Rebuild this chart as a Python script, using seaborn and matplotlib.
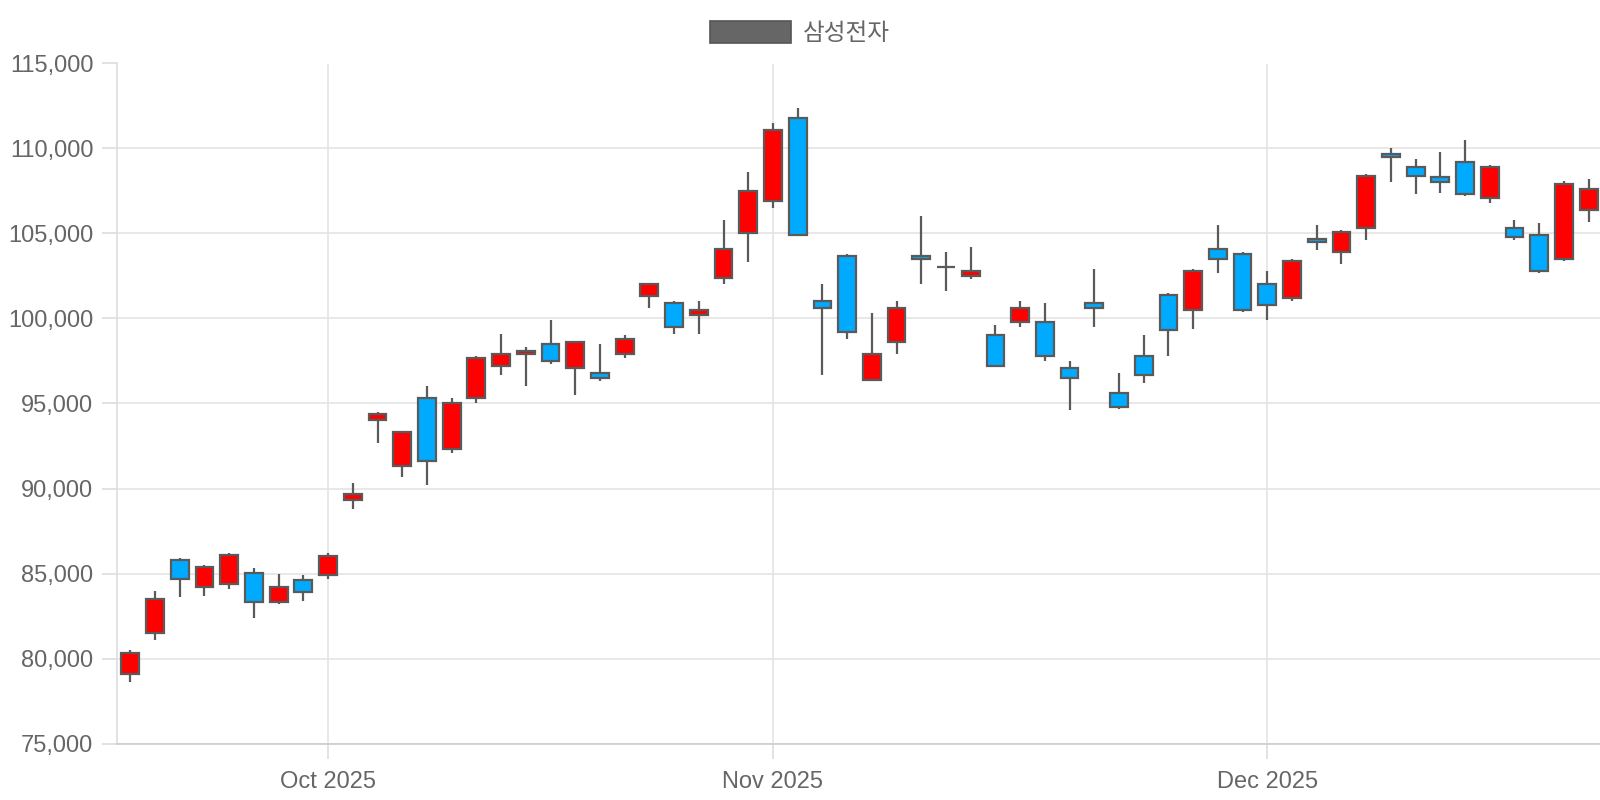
import numpy as np
import pandas as pd
import seaborn as sns
import matplotlib.pyplot as plt
from matplotlib.patches import Patch
from matplotlib.ticker import FuncFormatter, MultipleLocator

# trading days shown (Korean market, holidays skipped)
dates = [
    '2025-09-19', '2025-09-22', '2025-09-23', '2025-09-24', '2025-09-25', '2025-09-26',
    '2025-09-29', '2025-09-30', '2025-10-01', '2025-10-02', '2025-10-10', '2025-10-13',
    '2025-10-14', '2025-10-15', '2025-10-16', '2025-10-17', '2025-10-20', '2025-10-21',
    '2025-10-22', '2025-10-23', '2025-10-24', '2025-10-27', '2025-10-28', '2025-10-29',
    '2025-10-30', '2025-10-31', '2025-11-03', '2025-11-04', '2025-11-05', '2025-11-06',
    '2025-11-07', '2025-11-10', '2025-11-11', '2025-11-12', '2025-11-13', '2025-11-14',
    '2025-11-17', '2025-11-18', '2025-11-19', '2025-11-20', '2025-11-21', '2025-11-24',
    '2025-11-25', '2025-11-26', '2025-11-27', '2025-11-28', '2025-12-01', '2025-12-02',
    '2025-12-03', '2025-12-04', '2025-12-05', '2025-12-08', '2025-12-09', '2025-12-10',
    '2025-12-11', '2025-12-12', '2025-12-15', '2025-12-16', '2025-12-17', '2025-12-18',
]
open_ = [79100, 81500, 85800, 84200, 84400, 85000, 83300, 84600, 84900, 89300,
         94000, 91300, 95300, 92300, 95300, 97200, 97900, 98500, 97100, 96800,
         97900, 101300, 100900, 100200, 102400, 105000, 106900, 111800, 101000, 103700,
         96400, 98600, 103700, 103050, 102500, 99000, 99800, 99800, 97100, 100900,
         95600, 97800, 101400, 100500, 104100, 103800, 102000, 101200, 104700, 103900,
         105300, 109700, 108900, 108300, 109200, 107100, 105300, 104900, 103500, 106400]
high = [80500, 84000, 85900, 85500, 86200, 85300, 85000, 84900, 86200, 90300,
        94500, 93400, 96000, 95300, 97800, 99100, 98300, 99900, 98700, 98500,
        99000, 102000, 101000, 101000, 105800, 108600, 111500, 112400, 102000, 103800,
        100300, 101000, 106000, 103900, 104200, 99600, 101000, 100900, 97500, 102900,
        96800, 99000, 101500, 102900, 105500, 103900, 102800, 103500, 105500, 105200,
        108500, 110000, 109400, 109800, 110500, 109000, 105800, 105600, 108100, 108200]
low = [78600, 81100, 83600, 83700, 84100, 82400, 83200, 83400, 84700, 88800,
       92700, 90700, 90200, 92100, 95000, 96700, 96000, 97300, 95500, 96300,
       97700, 100600, 99100, 99100, 102000, 103300, 106500, 104900, 96700, 98800,
       96300, 97900, 102000, 101600, 102300, 97200, 99500, 97500, 94600, 99500,
       94700, 96200, 97800, 99400, 102700, 100400, 99900, 101000, 104000, 103200,
       104600, 108000, 107300, 107400, 107200, 106800, 104600, 102700, 103400, 105700]
close = [80300, 83500, 84700, 85400, 86100, 83300, 84200, 83900, 86000, 89700,
         94400, 93300, 91600, 95000, 97700, 97900, 98100, 97500, 98600, 96500,
         98800, 102000, 99500, 100500, 104100, 107500, 111100, 104900, 100600, 99200,
         97900, 100600, 103500, 103050, 102800, 97200, 100600, 97800, 96500, 100600,
         94800, 96700, 99300, 102800, 103500, 100500, 100800, 103400, 104500, 105100,
         108400, 109500, 108400, 108000, 107300, 108900, 104800, 102800, 107900, 107600]

series_name = '삼성전자'

df = pd.DataFrame({'date': pd.to_datetime(dates), 'open': open_, 'high': high,
                   'low': low, 'close': close})
df['idx'] = np.arange(len(df))
df['bottom'] = df[['open', 'close']].min(axis=1)
df['height'] = (df['close'] - df['open']).abs()
df['color'] = np.where(df['close'] > df['open'], '#ff0000',
                       np.where(df['close'] < df['open'], '#00aaff', '#999999'))

sns.set_theme(style="whitegrid")
plt.rcParams['font.family'] = ['Liberation Sans', 'Noto Sans CJK KR', 'DejaVu Sans']

fig = plt.figure(figsize=(16, 8), dpi=100)
ax = fig.add_axes([117 / 1600, 1 - 743.5 / 800, 1 - 117 / 1600, 680 / 800])

edge = '#5a5a5a'
ax.vlines(df['idx'], df['low'], df['high'], color=edge, linewidth=1.6, zorder=2)
ax.bar(df['idx'], df['height'], bottom=df['bottom'], width=0.72,
       color=df['color'], edgecolor=edge, linewidth=1.6, zorder=3)

# month ticks at first trading day of each month
first_days = df.groupby(df['date'].dt.to_period('M'))['idx'].min()
month_pos = [p for p in first_days.values if p > 0]
month_lab = [df.loc[p, 'date'].strftime('%b %Y') for p in month_pos]
ax.set_xticks(month_pos)
ax.set_xticklabels(month_lab)
ax.set_xlim(-0.54, len(df) - 0.54)

ax.set_ylim(75000, 115000)
ax.yaxis.set_major_locator(MultipleLocator(5000))
ax.yaxis.set_major_formatter(FuncFormatter(lambda v, _: f'{int(v):,}'))

ax.grid(True, color='#e4e4e4', linewidth=1.2)
ax.set_axisbelow(True)
for s in ['top', 'right']:
    ax.spines[s].set_visible(False)
ax.spines['left'].set_color('#dddddd')
ax.spines['bottom'].set_color('#cccccc')
ax.spines['left'].set_linewidth(1.2)
ax.spines['bottom'].set_linewidth(1.2)
ax.tick_params(axis='both', length=11, width=1.2, color='#dddddd',
               labelsize=17, labelcolor='#666666', bottom=True, left=True)
ax.tick_params(axis='y', pad=6)
ax.tick_params(axis='x', pad=9)
ax.set_xlabel('')
ax.set_ylabel('')

fig.legend(handles=[Patch(facecolor='#666666', edgecolor='#555555', linewidth=1.2,
                          label=series_name)],
           loc='upper center', bbox_to_anchor=(0.5, 1.0), frameon=False,
           fontsize=17, handlelength=3.4, handleheight=1.05, handletextpad=0.5,
           labelcolor='#666666')

fig.savefig('out.png', dpi=100, facecolor='white')
